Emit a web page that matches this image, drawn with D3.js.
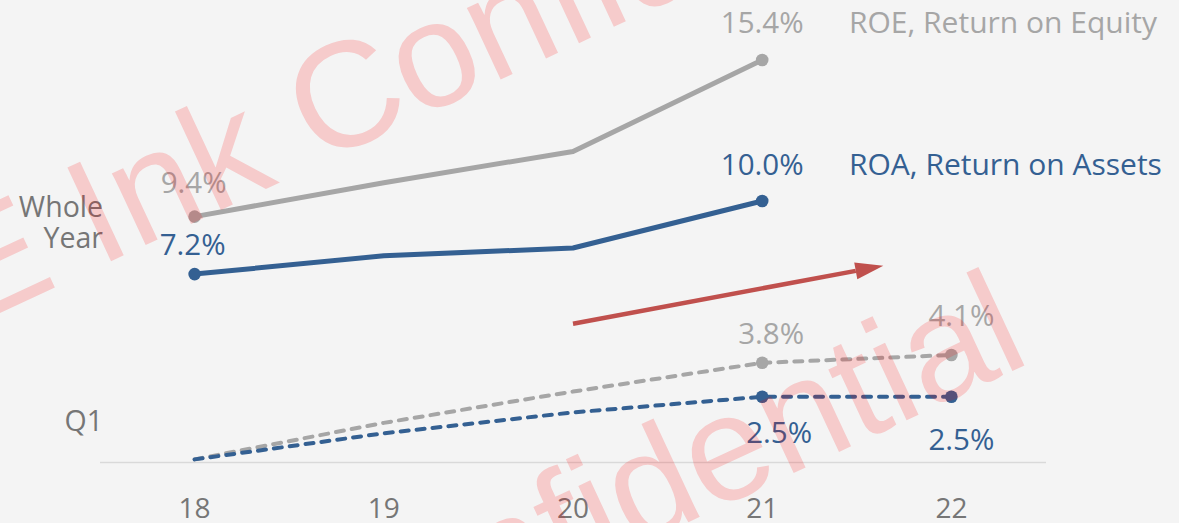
<!DOCTYPE html>
<html lang="en">
<head>
  <meta charset="UTF-8"/>
  <title>ROE / ROA</title>
  <script src="https://d3js.org/d3.v7.min.js"></script>
  <style>
  body {
    margin: 0;
    background: #f4f4f4;
  }
  svg {
    display: block;
    font-family: "Open Sans", sans-serif;
  }
  .tick-label {
    fill: #767676;
    font-size: 28px;
  }
  .cat-label {
    fill: #767676;
    font-size: 28.5px;
  }
  .watermark {
    font-family: "Liberation Sans", Arial, sans-serif;
    font-size: 150px;
    fill: rgb(255, 0, 0);
    fill-opacity: 0.17;
  }
  </style>
</head>
<body>
<script>
  // categories (years) and series values, in %
  var years = ["18", "19", "20", "21", "22"];
  var roeYear = [9.4, 10.7, 11.9, 15.4, null];
  var roaYear = [7.2, 7.9, 8.2, 10.0, null];
  var roeQ1 = [0.1, 1.5, 2.7, 3.8, 4.1];
  var roaQ1 = [0.1, 1.1, 1.9, 2.5, 2.5];

  // which points get a dot and a value label
  var yearMarked = ["18", "21"];
  var q1Marked = ["21", "22"];

  var seriesNames = ["ROE, Return on Equity", "ROA, Return on Assets"];
  var rowLabels = [["Whole", "Year"], ["Q1"]];

  // trend arrow, in (category index, value)
  var trendFrom = [2, 5.3];
  var trendTo = [3.64, 7.52];

  var watermarkText = "E Ink Confidential";

  var width = 1179, height = 523;
  var gray = "#a6a6a6", blue = "#346092", red = "#c0504d";

  var svg = d3.select("body").append("svg")
    .attr("width", width)
    .attr("height", height);

  svg.append("rect")
    .attr("width", width)
    .attr("height", height)
    .attr("fill", "#f4f4f4");

  var x = d3.scaleBand().domain(years).range([100, 1046]);
  var xc = function(d) { return x(d) + x.bandwidth() / 2; };
  var xi = d3.scaleLinear().domain([0, years.length - 1])
    .range([xc(years[0]), xc(years[years.length - 1])]);
  var y = d3.scaleLinear().domain([0, 16]).range([462, 462 - 16 * 26.1]);

  // axis baseline
  svg.append("line")
    .attr("x1", x.range()[0])
    .attr("x2", x.range()[1])
    .attr("y1", y(0) + 0.5)
    .attr("y2", y(0) + 0.5)
    .attr("stroke", "#d9d9d9")
    .attr("stroke-width", 1.5);

  svg.selectAll(".tick-label")
    .data(years)
    .enter().append("text")
    .attr("class", "tick-label")
    .attr("x", xc)
    .attr("y", 518)
    .attr("text-anchor", "middle")
    .text(function(d) { return d; });

  // row labels
  svg.append("text")
    .attr("class", "cat-label")
    .attr("text-anchor", "end")
    .selectAll("tspan")
    .data(rowLabels[0])
    .enter().append("tspan")
    .attr("x", 103)
    .attr("y", function(d, i) { return 217 + i * 31; })
    .text(function(d) { return d; });

  svg.append("text")
    .attr("class", "cat-label")
    .attr("text-anchor", "end")
    .attr("x", 103)
    .attr("y", 431)
    .text(rowLabels[1][0]);

  function toPoints(values) {
    return years.map(function(yr, i) { return {year: yr, value: values[i]}; })
      .filter(function(d) { return d.value != null; });
  }

  var line = d3.line()
    .x(function(d) { return xc(d.year); })
    .y(function(d) { return y(d.value); });

  var series = [
    {values: roeYear, color: gray, dash: null, width: 5, marked: yearMarked},
    {values: roaYear, color: blue, dash: null, width: 5, marked: yearMarked},
    {values: roeQ1, color: gray, dash: "8,8", width: 4, marked: q1Marked},
    {values: roaQ1, color: blue, dash: "8,8", width: 4, marked: q1Marked}
  ];

  series.forEach(function(s) {
    var pts = toPoints(s.values);
    svg.append("path")
      .datum(pts)
      .attr("fill", "none")
      .attr("stroke", s.color)
      .attr("stroke-width", s.width)
      .attr("stroke-linejoin", "round")
      .attr("stroke-linecap", s.dash ? "round" : "butt")
      .attr("stroke-dasharray", s.dash)
      .attr("d", line);

    svg.selectAll(null)
      .data(pts.filter(function(d) { return s.marked.indexOf(d.year) >= 0; }))
      .enter().append("circle")
      .attr("cx", function(d) { return xc(d.year); })
      .attr("cy", function(d) { return y(d.value); })
      .attr("r", 6.3)
      .attr("fill", s.color);
  });

  // value labels: [series values, year, colour, dx, dy]
  var fmt = function(v) { return v.toFixed(1) + "%"; };
  var labels = [
    [roeYear, "18", gray, -1, -24],
    [roeYear, "21", gray, 0, -27],
    [roaYear, "18", blue, -2, -19],
    [roaYear, "21", blue, 0, -26],
    [roeQ1, "21", gray, 9, -19],
    [roeQ1, "22", gray, 10, -29],
    [roaQ1, "21", blue, 17, 46],
    [roaQ1, "22", blue, 10, 53]
  ];
  svg.selectAll(".value-label")
    .data(labels)
    .enter().append("text")
    .attr("class", "value-label")
    .attr("x", function(d) { return xc(d[1]) + d[3]; })
    .attr("y", function(d) { return y(d[0][years.indexOf(d[1])]) + d[4]; })
    .attr("text-anchor", "middle")
    .attr("fill", function(d) { return d[2]; })
    .style("font-size", "29.5px")
    .text(function(d) { return fmt(d[0][years.indexOf(d[1])]); });

  // series names next to the last whole-year value
  svg.selectAll(".series-name")
    .data(seriesNames)
    .enter().append("text")
    .attr("class", "series-name")
    .attr("x", 849)
    .attr("y", function(d, i) { return y([roeYear, roaYear][i][3]) + (i == 0 ? -27 : -26); })
    .attr("fill", function(d, i) { return i == 0 ? gray : blue; })
    .style("font-size", "30px")
    .text(function(d) { return d; });

  // red trend arrow
  var ax0 = xi(trendFrom[0]), ay0 = y(trendFrom[1]);
  var ax1 = xi(trendTo[0]), ay1 = y(trendTo[1]);
  var ang = Math.atan2(ay1 - ay0, ax1 - ax0);
  var headLen = 28, headHalf = 8.5;
  var bx = ax1 - headLen * Math.cos(ang), by = ay1 - headLen * Math.sin(ang);
  svg.append("line")
    .attr("x1", ax0).attr("y1", ay0)
    .attr("x2", bx).attr("y2", by)
    .attr("stroke", red)
    .attr("stroke-width", 4.5);
  svg.append("path")
    .attr("fill", red)
    .attr("d", "M" + ax1 + "," + ay1 +
      "L" + (bx - headHalf * Math.sin(ang)) + "," + (by + headHalf * Math.cos(ang)) +
      "L" + (bx + headHalf * Math.sin(ang)) + "," + (by - headHalf * Math.cos(ang)) + "Z");

  // watermark on top
  [[-30, 327], [-32, 858]].forEach(function(p) {
    svg.append("text")
      .attr("class", "watermark")
      .attr("transform", "translate(" + p[0] + "," + p[1] + ") rotate(-25)")
      .text(watermarkText);
  });
</script>
</body>
</html>
